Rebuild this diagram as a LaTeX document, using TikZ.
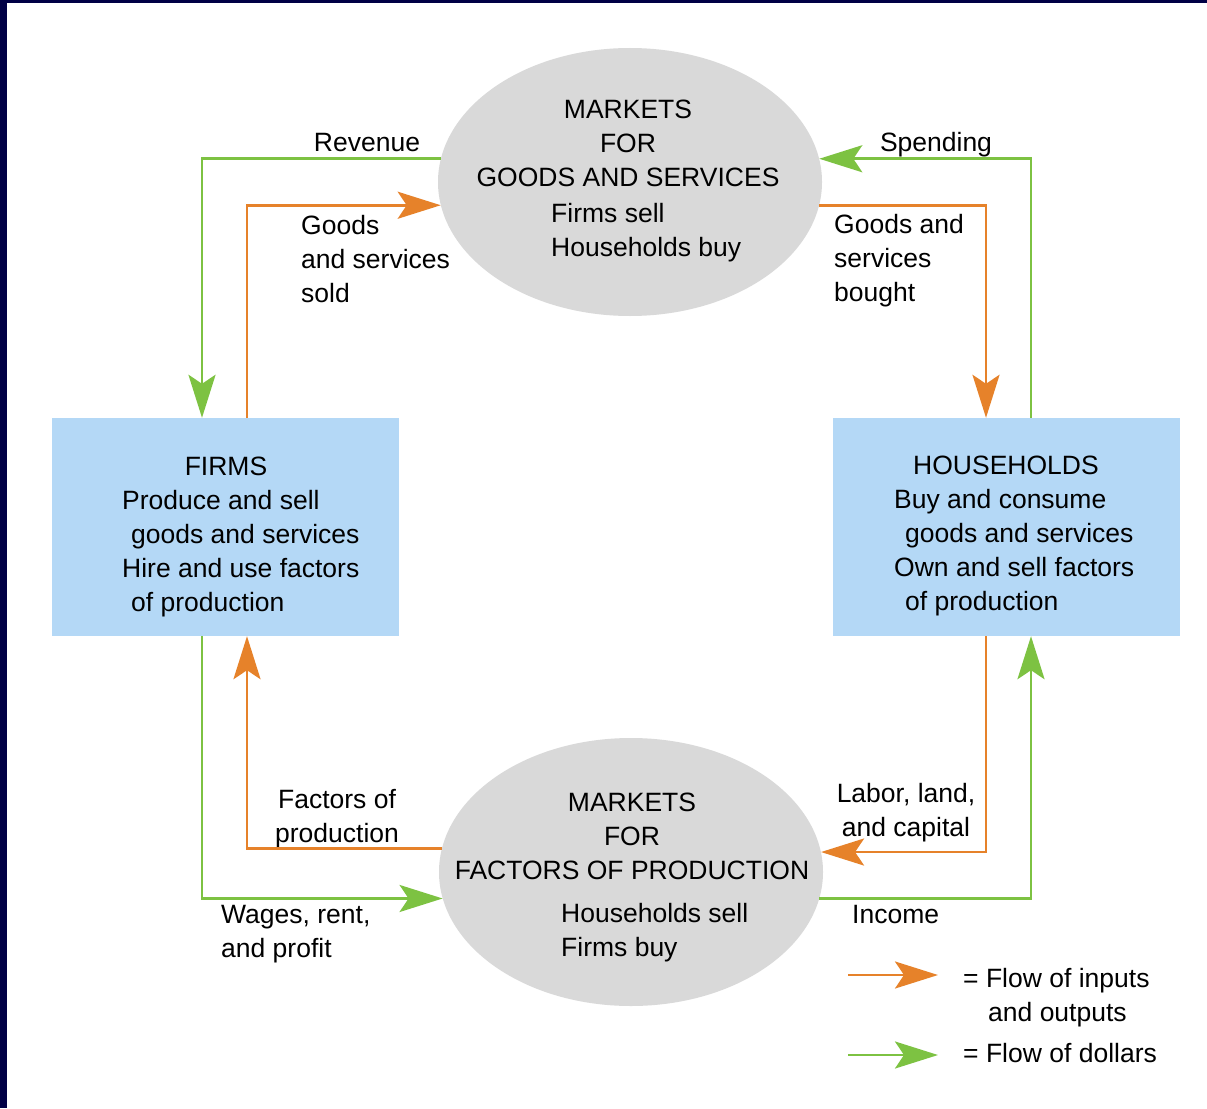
\documentclass[tikz,border=0pt]{standalone}
\usepackage{fontspec}
\setmainfont{Liberation Sans}
\usetikzlibrary{arrows.meta,shapes.geometric}
\definecolor{navy}{HTML}{000045}
\definecolor{flowgreen}{HTML}{7DC242}
\definecolor{floworange}{HTML}{E6822A}
\definecolor{mktgray}{HTML}{D9D9D9}
\definecolor{boxblue}{HTML}{B4D8F6}
\tikzset{
  mkt/.style={ellipse,fill=mktgray,draw=none,inner sep=0pt,minimum width=384pt,minimum height=268pt},
  agent/.style={rectangle,fill=boxblue,draw=none,inner sep=0pt,minimum width=347pt,minimum height=218pt},
  txt/.style={inner sep=0pt,font=\fontsize{26.5}{34}\selectfont},
  flow/.style={line width=2.7pt,-{Stealth[length=43pt,width=27pt,inset=9pt]}},
  gflow/.style={flow,draw=flowgreen},
  oflow/.style={flow,draw=floworange},
}
\begin{document}
\begin{tikzpicture}[x=1pt,y=-1pt]
\useasboundingbox (0,0) rectangle (1207,1108);
\fill[white] (0,0) rectangle (1207,1108);
\fill[navy] (0,0) rectangle (7,1108);
\fill[navy] (0,0) rectangle (1207,3);

\node[mkt] (top) at (630,182) {};
\node[mkt] (bot) at (631,872) {};
\node[agent] (firms) at (225.5,527) {};
\node[agent] (hh) at (1006.5,527) {};

% top ellipse text
\node[txt,anchor=north,align=center] (toptitle) at (628,99.5) {MARKETS\\FOR\\GOODS AND SERVICES};
\node[txt,anchor=north west,align=left] (topsub) at (551,203.5) {Firms sell\\Households buy};
% bottom ellipse text
\node[txt,anchor=north,align=center] (bottitle) at (632,792.5) {MARKETS\\FOR\\FACTORS OF PRODUCTION};
\node[txt,anchor=north west,align=left] (botsub) at (561,903.5) {Households sell\\Firms buy};
% firms
\node[txt,anchor=north] (firmstitle) at (226,456.5) {FIRMS};
\node[txt,anchor=north west,align=left] (firmssub) at (122,490.5) {Produce and sell\\\hspace*{9pt}goods and services\\Hire and use factors\\\hspace*{9pt}of production};
% households
\node[txt,anchor=north] (hhtitle) at (1006,455.5) {HOUSEHOLDS};
\node[txt,anchor=north west,align=left] (hhsub) at (894,489.5) {Buy and consume\\\hspace*{11pt}goods and services\\Own and sell factors\\\hspace*{11pt}of production};

% flow labels
\node[txt,anchor=north] (lrev) at (367,133.5) {Revenue};
\node[txt,anchor=north west,align=left] (lsold) at (301,215.5) {Goods\\and services\\sold};
\node[txt,anchor=north] (lspend) at (936,132.5) {Spending};
\node[txt,anchor=north west,align=left] (lbought) at (834,214.5) {Goods and\\services\\bought};
\node[txt,anchor=north,align=center] (lfact) at (337,789.5) {Factors of\\production};
\node[txt,anchor=north west,align=left] (lwages) at (221,905.5) {Wages, rent,\\and profit};
\node[txt,anchor=north,align=center] (llabor) at (906,783.5) {Labor, land,\\and capital};
\node[txt,anchor=north west] (lincome) at (852,905.5) {Income};

% flows
\draw[gflow] (top.173.9) -| ([xshift=-23.5pt]firms.north);
\draw[oflow] ([xshift=21.5pt]firms.north) |- (top.187.2);
\draw[gflow] ([xshift=24.5pt]hh.north) |- (top.7.1);
\draw[oflow] (top.-7.2) -| ([xshift=-20.5pt]hh.north);
\draw[oflow] (bot.173.4) -| ([xshift=21.5pt]firms.south);
\draw[gflow] ([xshift=-23.5pt]firms.south) |- (bot.188.2);
\draw[oflow] ([xshift=-20.5pt]hh.south) |- (bot.6.6);
\draw[gflow] (bot.-8.2) -| ([xshift=24.5pt]hh.south);

% legend
\coordinate (lo1) at (848,975);
\coordinate (lo2) at (938,975);
\coordinate (lg1) at (848,1055);
\coordinate (lg2) at (938,1055);
\draw[oflow] (lo1) -- (lo2);
\draw[gflow] (lg1) -- (lg2);
\node[txt,anchor=north west,align=left] (leg1) at (963,968.5) {= Flow of inputs\\\hspace*{25pt}and outputs};
\node[txt,anchor=north west] (leg2) at (963,1043.5) {= Flow of dollars};
\end{tikzpicture}
\end{document}
